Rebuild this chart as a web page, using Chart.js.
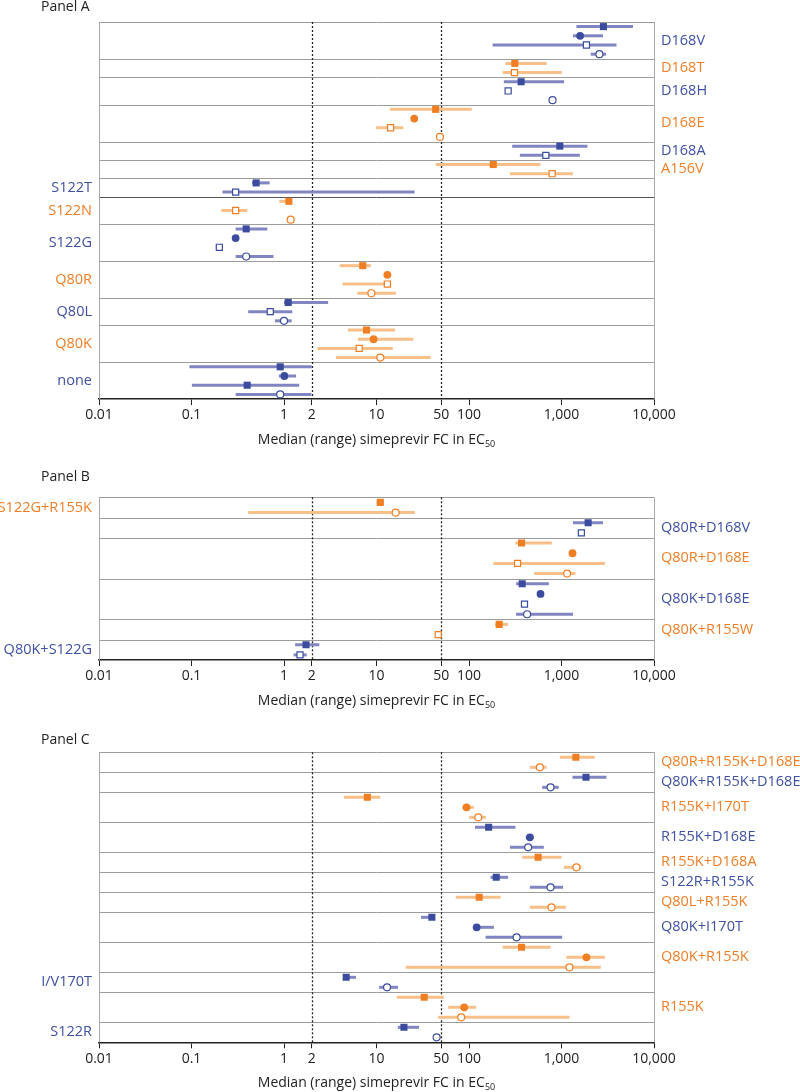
<!DOCTYPE html>
<html>
<head>
<meta charset="utf-8">
<title>Simeprevir FC in EC50</title>
<script src="https://cdn.jsdelivr.net/npm/chart.js@4.4.0/dist/chart.umd.min.js"></script>
<style>
  body { margin: 0; background: #fff; }
  .panel { position: absolute; left: 0; width: 800px; }
</style>
</head>
<body>
<div class="panel" style="top:0;height:460px"><canvas id="panelA"></canvas></div>
<div class="panel" style="top:460px;height:255px"><canvas id="panelB"></canvas></div>
<div class="panel" style="top:715px;height:377px"><canvas id="panelC"></canvas></div>
<script>
// x axis
const xTicks = [0.01, 0.1, 1, 2, 10, 50, 100, 1000, 10000];
const cutoffs = [2, 50];

// point entries: [marker, median, low, high]
// fs = filled square, fc = filled circle, os = open square, oc = open circle

// Panel A
const panelALabels = ['D168V', 'D168T', 'D168H', 'D168E', 'D168A', 'A156V', 'S122T',
  'S122N', 'S122G', 'Q80R', 'Q80L', 'Q80K', 'none'];
const panelAColors = ['b', 'o', 'b', 'o', 'b', 'o', 'b', 'o', 'b', 'o', 'b', 'o', 'b'];
const panelASides = ['R', 'R', 'R', 'R', 'R', 'R', 'L', 'L', 'L', 'L', 'L', 'L', 'L'];
const panelAPoints = [
  [['fs', 2840, 1450, 5930], ['fc', 1590, 1330, 2810], ['os', 1860, 180, 3930], ['oc', 2570, 2070, 3030]],
  [['fs', 313, 248, 694], ['os', 310, 231, 1007]],
  [['fs', 366, 238, 1067], ['os', 265], ['oc', 800]],
  [['fs', 43.6, 14, 107], ['fc', 25.6], ['os', 14.2, 9.9, 19.5], ['oc', 48.5]],
  [['fs', 959, 293, 1909], ['os', 677, 355, 1577]],
  [['fs', 183, 43.6, 593], ['os', 792, 277, 1334]],
  [['fs', 0.50, 0.45, 0.70], ['os', 0.30, 0.216, 25.8]],
  [['fs', 1.13, 0.89, 1.2], ['os', 0.30, 0.21, 0.40], ['oc', 1.18]],
  [['fs', 0.39, 0.30, 0.66], ['fc', 0.30], ['os', 0.20], ['oc', 0.39, 0.30, 0.77]],
  [['fs', 7.1, 4.0, 8.7], ['fc', 13.1], ['os', 13.1, 4.3, 14.2], ['oc', 8.8, 6.2, 16.2]],
  [['fs', 1.11, 1.0, 3.0], ['os', 0.71, 0.41, 1.23], ['oc', 1.0, 0.8, 1.21]],
  [['fs', 7.8, 4.9, 15.8], ['fc', 9.3, 6.3, 25], ['os', 6.5, 2.3, 15], ['oc', 11, 3.65, 38.5]],
  [['fs', 0.91, 0.095, 2.0], ['fc', 1.01, 0.88, 1.35], ['fs', 0.40, 0.101, 1.46], ['oc', 0.91, 0.30, 1.98]]
];

// Panel B
const panelBLabels = ['S122G+R155K', 'Q80R+D168V', 'Q80R+D168E', 'Q80K+D168E', 'Q80K+R155W', 'Q80K+S122G'];
const panelBColors = ['o', 'b', 'o', 'b', 'o', 'b'];
const panelBSides = ['L', 'R', 'R', 'R', 'R', 'L'];
const panelBPoints = [
  [['fs', 11, 10, 12], ['oc', 16.1, 0.41, 26]],
  [['fs', 1940, 1330, 2810], ['os', 1640]],
  [['fs', 370, 318, 786], ['fc', 1315], ['os', 335, 183, 2940], ['oc', 1150, 507, 1416]],
  [['fs', 376, 323, 730], ['fc', 593], ['os', 398], ['oc', 425, 323, 1334]],
  [['fs', 212, 192, 265], ['os', 46.5]],
  [['fs', 1.73, 1.32, 2.41], ['os', 1.49, 1.27, 1.76]]
];

// Panel C
const panelCLabels = ['Q80R+R155K+D168E', 'Q80K+R155K+D168E', 'R155K+I170T', 'R155K+D168E',
  'R155K+D168A', 'S122R+R155K', 'Q80L+R155K', 'Q80K+I170T', 'Q80K+R155K', 'I/V170T', 'R155K', 'S122R'];
const panelCColors = ['o', 'b', 'o', 'b', 'o', 'b', 'o', 'b', 'o', 'b', 'o', 'b'];
const panelCSides = ['R', 'R', 'R', 'R', 'R', 'R', 'R', 'R', 'R', 'L', 'R', 'L'];
const panelCPoints = [
  [['fs', 1430, 960, 2290], ['oc', 583, 455, 689]],
  [['fs', 1840, 1315, 3060], ['oc', 761, 618, 935]],
  [['fs', 7.96, 4.46, 11], ['fc', 94, 85, 113], ['oc', 126, 100, 152]],
  [['fs', 163, 116, 318], ['fc', 455, 411, 502], ['oc', 436, 277, 644]],
  [['fs', 559, 376, 1000], ['oc', 1450, 1060, 1640]],
  [['fs', 197, 171, 265], ['oc', 761, 455, 1040]],
  [['fs', 129, 72, 219], ['oc', 780, 455, 1114]],
  [['fs', 39.7, 30.3, 42], ['fc', 121, 120, 186], ['oc', 327, 151, 1016]],
  [['fs', 370, 231, 761], ['fc', 1860, 1130, 2940], ['oc', 1220, 20.7, 2660]],
  [['fs', 4.7, 4.5, 6.0], ['oc', 13, 10.7, 17.1]],
  [['fs', 32.8, 16.6, 53.6], ['fc', 88.7, 59.6, 119], ['oc', 82.4, 46.5, 1220]],
  [['fs', 19.8, 17, 28.8], ['oc', 44.7]]
];

const COLORS = {
  b: { mark: '#3b4c9f', bar: '#8186c2', text: '#3f51a2' },
  o: { mark: '#f07f24', bar: '#f9bf88', text: '#ef7e28' }
};
const FONT = '"Open Sans", "Noto Sans", sans-serif';
const AXIS_TITLE = 'Median (range) simeprevir FC in EC';

function markerStyle(marker, c) {
  const filled = marker[0] === 'f';
  const square = marker[1] === 's';
  return {
    pointStyle: square ? 'rect' : 'circle',
    pointRadius: square ? (filled ? 5 : 4.3) : (filled ? 3.9 : 3.5),
    backgroundColor: filled ? c.mark : '#fff',
    borderColor: c.mark,
    borderWidth: filled ? 0 : 1.2
  };
}

function makePanel(id, name, labels, colors, sides, points, layout) {
  // stack the points of each row in slots
  const rowStart = [];
  let slot = 0;
  const groups = {};
  const bars = [];
  points.forEach((row, r) => {
    rowStart.push(slot);
    row.forEach((p, i) => {
      const y = slot + i + 0.5;
      const key = colors[r] + p[0];
      if (!groups[key]) groups[key] = { color: colors[r], marker: p[0], data: [] };
      groups[key].data.push({ x: p[1], y: y });
      if (p[2] != null) bars.push({ lo: p[2], hi: p[3], y: y, color: colors[r] });
    });
    slot += row.length;
  });
  const totalSlots = slot;

  const datasets = Object.values(groups).map(g => Object.assign({
    type: 'scatter',
    data: g.data
  }, markerStyle(g.marker, COLORS[g.color])));

  const panelDecor = {
    id: 'panelDecor',
    beforeDatasetsDraw(chart) {
      const { ctx, chartArea: a, scales: { x, y } } = chart;
      ctx.save();
      // row separators
      ctx.lineWidth = 1;
      rowStart.forEach((s, i) => {
        const py = Math.round(y.getPixelForValue(s)) + 0.5;
        ctx.strokeStyle = (layout.darkLines || []).includes(i) ? '#555' : '#9c9c9c';
        ctx.beginPath();
        ctx.moveTo(a.left, py);
        ctx.lineTo(a.right, py);
        ctx.stroke();
      });
      ctx.strokeStyle = '#a8a8a8';
      [a.left, a.right].forEach(px => {
        ctx.beginPath();
        ctx.moveTo(Math.round(px) + 0.5, a.top);
        ctx.lineTo(Math.round(px) + 0.5, a.bottom);
        ctx.stroke();
      });
      // cutoff lines
      ctx.strokeStyle = '#222';
      ctx.lineWidth = 1.3;
      ctx.setLineDash([2, 2]);
      cutoffs.forEach(v => {
        const px = Math.round(x.getPixelForValue(v)) + 0.5;
        ctx.beginPath();
        ctx.moveTo(px, a.top);
        ctx.lineTo(px, a.bottom);
        ctx.stroke();
      });
      ctx.setLineDash([]);
      // ranges
      ctx.lineWidth = 3;
      bars.forEach(b => {
        const py = y.getPixelForValue(b.y);
        ctx.strokeStyle = COLORS[b.color].bar;
        ctx.beginPath();
        ctx.moveTo(x.getPixelForValue(b.lo), py);
        ctx.lineTo(x.getPixelForValue(b.hi), py);
        ctx.stroke();
      });
      ctx.restore();
    },
    afterDraw(chart) {
      const { ctx, chartArea: a, scales: { y } } = chart;
      ctx.save();
      ctx.textBaseline = 'middle';
      ctx.font = '14.5px ' + FONT;
      labels.forEach((lab, r) => {
        const py = y.getPixelForValue(rowStart[r] + points[r].length / 2);
        ctx.fillStyle = COLORS[colors[r]].text;
        if (sides[r] === 'L') {
          ctx.textAlign = 'right';
          ctx.fillText(lab, a.left - 7, py);
        } else {
          ctx.textAlign = 'left';
          ctx.fillText(lab, a.right + 7, py);
        }
      });
      // panel name
      ctx.font = '14px ' + FONT;
      ctx.fillStyle = '#222';
      ctx.textAlign = 'left';
      ctx.fillText(name, 41, a.top + layout.nameOffset);
      // axis title with subscript
      const cx = (a.left + a.right) / 2;
      const ty = a.bottom + 41;
      const w1 = ctx.measureText(AXIS_TITLE).width;
      ctx.font = '9px ' + FONT;
      const w2 = ctx.measureText('50').width;
      const sx = cx - (w1 + w2) / 2;
      ctx.font = '14px ' + FONT;
      ctx.fillText(AXIS_TITLE, sx, ty);
      ctx.font = '9px ' + FONT;
      ctx.fillText('50', sx + w1, ty + 4);
      ctx.restore();
    }
  };

  new Chart(document.getElementById(id), {
    type: 'scatter',
    data: { datasets: datasets },
    options: {
      responsive: true,
      maintainAspectRatio: false,
      animation: false,
      layout: { padding: { left: 99, right: 146, top: layout.top, bottom: layout.bottom } },
      scales: {
        x: {
          type: 'logarithmic',
          min: 0.01,
          max: 10000,
          afterBuildTicks: s => { s.ticks = xTicks.map(v => ({ value: v })); },
          afterFit: s => { s.height = 26; },
          grid: { drawOnChartArea: false, drawTicks: true, tickLength: 6, color: '#222', lineWidth: 1 },
          border: { display: true, color: '#222', width: 1.5 },
          ticks: {
            autoSkip: false,
            maxRotation: 0,
            padding: 2,
            color: '#222',
            font: { family: FONT, size: 14 },
            callback: v => Number(v).toLocaleString('en-US', { maximumFractionDigits: 2 })
          }
        },
        y: { type: 'linear', min: 0, max: totalSlots, reverse: true, display: false }
      },
      plugins: { legend: { display: false }, tooltip: { enabled: false } }
    },
    plugins: [panelDecor]
  });
}

makePanel('panelA', 'Panel A', panelALabels, panelAColors, panelASides, panelAPoints,
  { top: 22, bottom: 35, nameOffset: -15, darkLines: [7] });
makePanel('panelB', 'Panel B', panelBLabels, panelBColors, panelBSides, panelBPoints,
  { top: 37.3, bottom: 29, nameOffset: -20 });
makePanel('panelC', 'Panel C', panelCLabels, panelCColors, panelCSides, panelCPoints,
  { top: 37.3, bottom: 23.7, nameOffset: -12 });
</script>
</body>
</html>
